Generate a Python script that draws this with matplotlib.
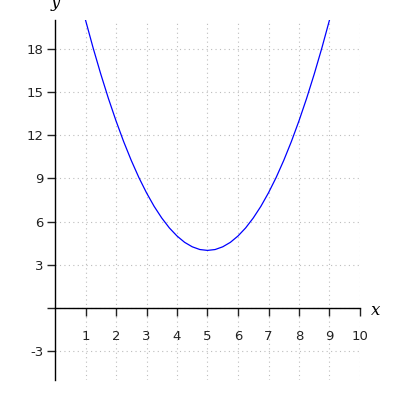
#!/usr/bin/env python3
"""Parabola on centred axes, read off the reference picture."""

import matplotlib
matplotlib.use('Agg')
import matplotlib.pyplot as plt

# Points
x_vals = [1.0, 1.25, 1.5, 1.75, 2.0, 2.25, 2.5, 2.75, 3.0, 3.25, 3.5, 3.75,
          4.0, 4.25, 4.5, 4.75, 5.0, 5.25, 5.5, 5.75, 6.0, 6.25, 6.5, 6.75,
          7.0, 7.25, 7.5, 7.75, 8.0, 8.25, 8.5, 8.75, 9.0]
y_vals = [20.0, 18.06, 16.25, 14.56, 13.0, 11.56, 10.25, 9.06, 8.0, 7.06,
          6.25, 5.56, 5.0, 4.56, 4.25, 4.06, 4.0, 4.06, 4.25, 4.56, 5.0,
          5.56, 6.25, 7.06, 8.0, 9.06, 10.25, 11.56, 13.0, 14.56, 16.25,
          18.06, 20.0]

x_ticks = [1, 2, 3, 4, 5, 6, 7, 8, 9, 10]
y_ticks = [-3, 0, 3, 6, 9, 12, 15, 18]
y_labels = ['-3', '', '3', '6', '9', '12', '15', '18']

fig = plt.figure(figsize=(4, 4), dpi=100)
ax = fig.add_axes([0.1375, 0.05, 0.7625, 0.9])

ax.plot(x_vals, y_vals, color='blue', lw=0.9)

ax.set_xlim(0, 10)
ax.set_ylim(-5, 20)

ax.spines['left'].set_position(('data', 0))
ax.spines['bottom'].set_position(('data', 0))
ax.spines['top'].set_visible(False)
ax.spines['right'].set_visible(False)
for s in ('left', 'bottom'):
    ax.spines[s].set_linewidth(1.0)

ax.set_xticks(x_ticks)
ax.set_yticks(y_ticks)
ax.set_yticklabels(y_labels)
ax.tick_params(axis='x', direction='out', length=6, width=1, pad=10,
               labelsize=9.5, colors='#222222')
ax.tick_params(axis='y', direction='out', length=6, width=1, pad=2,
               labelsize=9.5, colors='#222222')
ax.grid(True, color='#bdbdbd', linestyle=(0, (1, 3)), lw=0.8)

ax.text(10.35, -0.2, 'x', fontsize=12, fontstyle='italic', family='DejaVu Serif',
        ha='left', va='center')
ax.text(0, 20.6, 'y', fontsize=12, fontstyle='italic', family='DejaVu Serif',
        ha='center', va='bottom')

fig.savefig('out.png', dpi=100)
